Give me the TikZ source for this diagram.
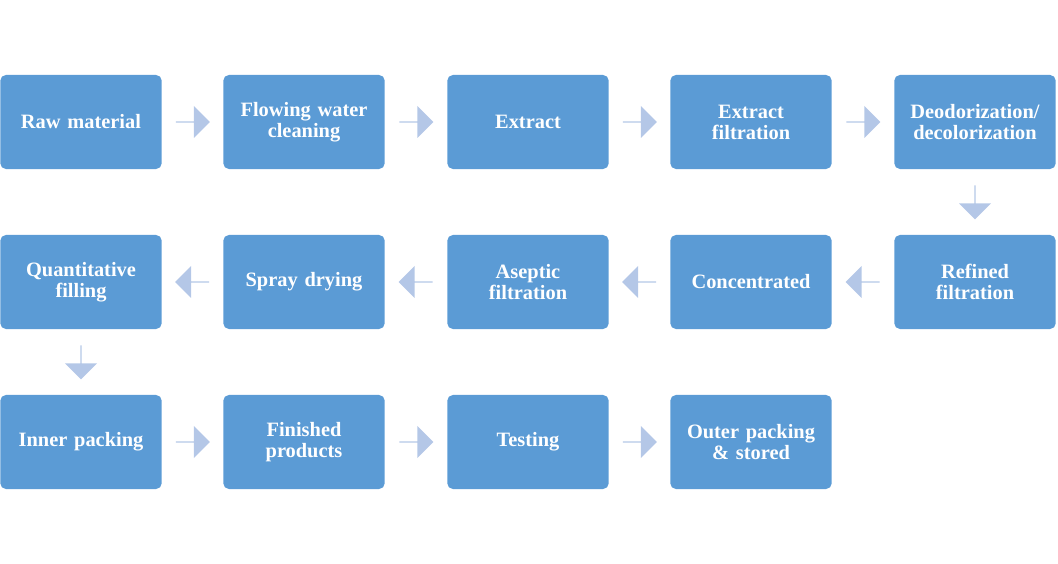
\documentclass[tikz,border=0pt]{standalone}
\usepackage{fontspec}
\setmainfont{Liberation Serif}
\usetikzlibrary{shapes.arrows,calc}
\definecolor{boxblue}{HTML}{5B9BD5}
\definecolor{arrowblue}{HTML}{B4C7E7}
\tikzset{
  stage/.style={fill=boxblue,rounded corners=4pt,minimum width=3.95cm,minimum height=2.35cm,
    text width=3.8cm,align=center,text=white,font=\fontsize{14.5}{15}\selectfont\bfseries},
  flow/.style={single arrow,fill=arrowblue,draw=none,inner sep=0pt,minimum height=0.85cm,
    minimum width=0.8cm,single arrow head extend=0.15cm}
}
\begin{document}
\begin{tikzpicture}[x=0.025cm,y=0.025cm]
  \useasboundingbox (0,0) rectangle (1058,564);

  \node[stage] (raw) at (81,442) {Raw material};
  \node[stage] (wash) at (304,442) {Flowing water\\cleaning};
  \node[stage] (ext) at (528,442) {Extract};
  \node[stage] (extf) at (751,442) {Extract\\filtration};
  \node[stage] (deo) at (975,442) {Deodorization/\\decolorization};

  \node[stage] (ref) at (975,282) {Refined\\filtration};
  \node[stage] (conc) at (751,282) {Concentrated};
  \node[stage] (asep) at (528,282) {Aseptic\\filtration};
  \node[stage] (spray) at (304,282) {Spray drying};
  \node[stage] (fill) at (81,282) {Quantitative\\filling};

  \node[stage] (inner) at (81,122) {Inner packing};
  \node[stage] (fin) at (304,122) {Finished\\products};
  \node[stage] (test) at (528,122) {Testing};
  \node[stage] (outer) at (751,122) {Outer packing\\\& stored};

  % block arrows between stages
  \foreach \a/\b in {raw/wash,wash/ext,ext/extf,extf/deo,inner/fin,fin/test,test/outer}
    \node[flow] at ($(\a)!0.5!(\b)$) {};
  \foreach \a/\b in {ref/conc,conc/asep,asep/spray,spray/fill}
    \node[flow,shape border rotate=180] at ($(\a)!0.5!(\b)$) {};
  \node[flow,shape border rotate=270] at ($(deo)!0.5!(ref)$) {};
  \node[flow,shape border rotate=270] at ($(fill)!0.5!(inner)$) {};
\end{tikzpicture}
\end{document}
